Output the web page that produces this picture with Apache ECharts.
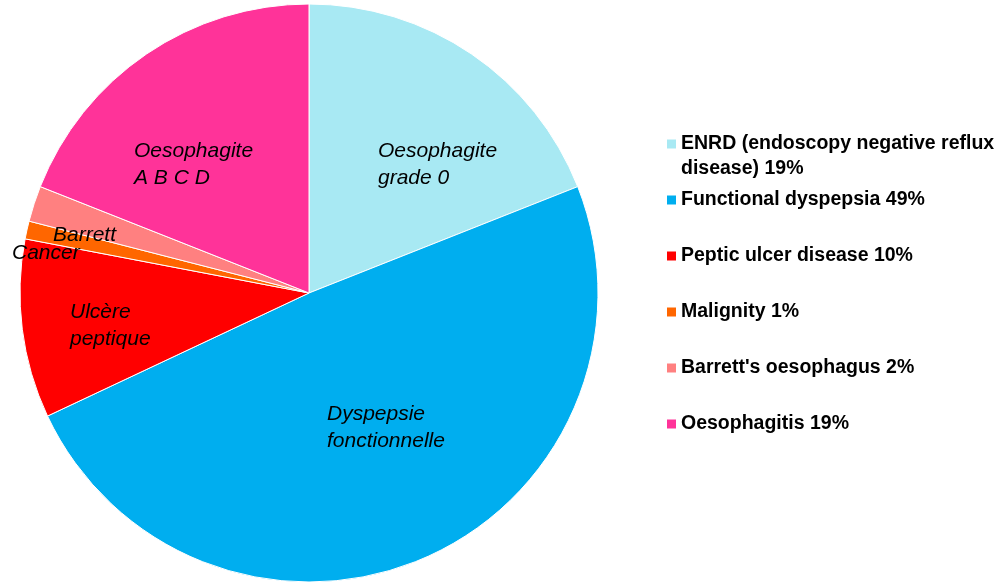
<!DOCTYPE html>
<html>
<head>
<meta charset="utf-8">
<script src="https://cdn.jsdelivr.net/npm/echarts@6/dist/echarts.min.js"></script>
<style>
  html, body { margin: 0; padding: 0; background: #fff; }
  #chart { width: 1001px; height: 583px; }
</style>
</head>
<body>
<div id="chart"></div>
<script>
// Diagnoses found at endoscopy, share of patients (%)
const categories = [
  'ENRD (endoscopy negative reflux disease)',
  'Functional dyspepsia',
  'Peptic ulcer disease',
  'Malignity',
  "Barrett's oesophagus",
  'Oesophagitis'
];
const shares = [19, 49, 10, 1, 2, 19];
const sliceLabels = [
  'Oesophagite\ngrade 0',
  'Dyspepsie\nfonctionnelle',
  'Ulcère\npeptique',
  'Cancer',
  'Barrett',
  'Oesophagite\nA B C D'
];

// Styling
const sliceColors = ['#A8E9F3', '#00AEEF', '#FF0000', '#FF6600', '#FF8080', '#FF3399'];
const pieCenter = [309, 293];
const pieRadius = 289;
// left edge / vertical middle of each italic slice caption
const labelSpots = [[378, 164.5], [327, 427.5], [70, 326], [12, 253], [53, 235], [134, 164.5]];
// vertical middle of the first text line of each legend entry
const legendRows = [144, 200, 256, 312, 368, 424];
const legendLeft = 667;
const legendFont = 19.5;
const legendLine = 25;

const chart = echarts.init(document.getElementById('chart'), null, { renderer: 'canvas' });

const legends = categories.map((name, i) => {
  // the long first entry wraps onto two lines; a blank leading line keeps
  // its marker level with the first line of text
  const wraps = i === 0;
  return {
    data: [name],
    orient: 'vertical',
    left: legendLeft,
    top: wraps ? legendRows[i] - legendLine * 1.5 : legendRows[i] - legendLine / 2,
    padding: 0,
    icon: 'rect',
    itemWidth: 9,
    itemHeight: 9,
    itemStyle: { borderWidth: 0 },
    selectedMode: false,
    formatter: n => (wraps ? '\n' : '') + n + ' ' + shares[categories.indexOf(n)] + '%',
    textStyle: {
      color: '#000',
      fontFamily: 'Liberation Sans, Arial, sans-serif',
      fontWeight: 'bold',
      fontSize: legendFont,
      lineHeight: legendLine,
      width: 322,
      overflow: 'break'
    }
  };
});

chart.setOption({
  animation: false,
  color: sliceColors,
  legend: legends,
  series: [{
    type: 'pie',
    center: pieCenter,
    radius: pieRadius,
    startAngle: 90,
    clockwise: true,
    avoidLabelOverlap: false,
    silent: true,
    itemStyle: { borderColor: '#fff', borderWidth: 1 },
    label: {
      show: true,
      position: 'inside',
      formatter: p => sliceLabels[p.dataIndex],
      color: '#000',
      fontFamily: 'Liberation Sans, Arial, sans-serif',
      fontStyle: 'italic',
      fontSize: 21,
      lineHeight: 27,
      align: 'left'
    },
    labelLine: { show: false },
    labelLayout: p => ({
      x: labelSpots[p.dataIndex][0],
      y: labelSpots[p.dataIndex][1],
      align: 'left',
      verticalAlign: 'middle'
    }),
    emphasis: { disabled: true },
    data: categories.map((name, i) => ({ name, value: shares[i] }))
  }]
});
</script>
</body>
</html>
